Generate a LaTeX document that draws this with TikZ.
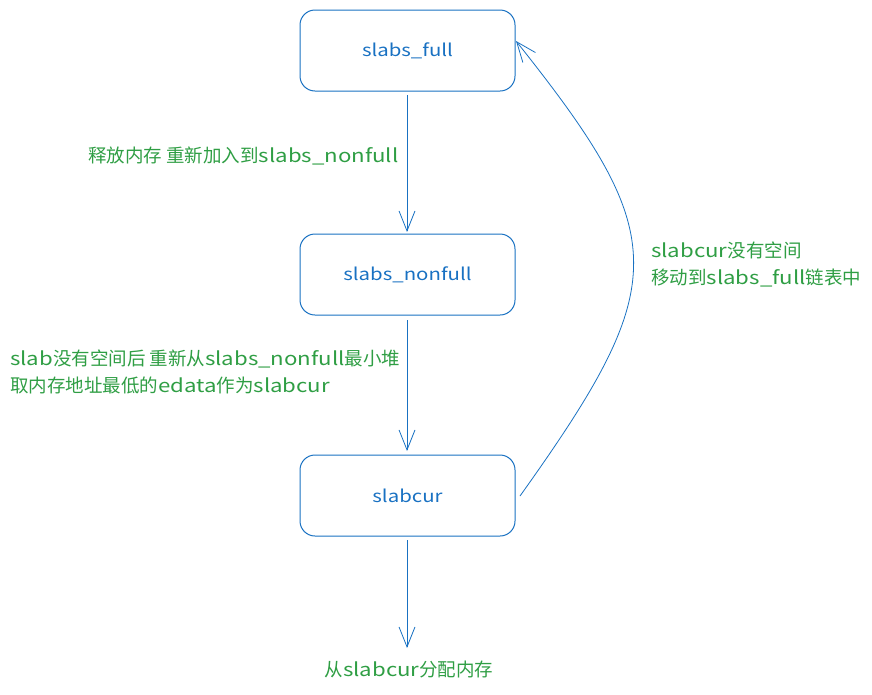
\documentclass[tikz,border=0pt]{standalone}
\usepackage{fontspec}
\setmainfont{Noto Sans CJK SC}
\newfontfamily\enwide[FakeStretch=1.2]{Noto Sans CJK SC}
\newcommand{\en}[1]{{\enwide #1}}
\usetikzlibrary{arrows.meta}
\definecolor{exblue}{HTML}{1971C2}
\definecolor{exgreen}{HTML}{2F9E44}
\begin{document}
\begin{tikzpicture}[x=1pt,y=-1pt,
  box/.style={draw=exblue, line width=1pt, rounded corners=15pt, minimum width=215pt, minimum height=81pt, text=exblue, font=\fontsize{17}{20}\selectfont, inner sep=0pt},
  conn/.style={draw=exblue, line width=0.8pt, -{Straight Barb[length=20pt,width=16pt,line width=0.8pt]}},
  lbl/.style={text=exgreen, font=\fontsize{18.5}{27}\selectfont, inner sep=0pt, align=left}]
\useasboundingbox (0,0) rectangle (872,694);
\node[box] (full) at (407.5,50.5) {\en{slabs\_full}};
\node[box] (nonfull) at (407.5,274.5) {\en{slabs\_nonfull}};
\node[box] (cur) at (407.5,495.5) {\en{slabcur}};
\coordinate (endp) at (407,648);
\draw[conn] (407,95) -- (407,232);
\draw[conn] (407,320) -- (407,451);
\draw[conn] (407,540) -- (endp);
\draw[conn] (520,496) .. controls (672,283) and (672,237) .. (516,41);
\node[lbl, anchor=west] (l1) at (88,156) {释放内存 重新加入到\en{slabs\_nonfull}};
\node[lbl, anchor=north west] (l2) at (10,350) {\en{slab}没有空间后 重新从\en{slabs\_nonfull}最小堆\\取内存地址最低的\en{edata}作为\en{slabcur}};
\node[lbl, anchor=north west] (l3) at (651,242) {\en{slabcur}没有空间\\移动到\en{slabs\_full}链表中};
\node[lbl] (l4) at (409,669) {从\en{slabcur}分配内存};
\end{tikzpicture}
\end{document}
